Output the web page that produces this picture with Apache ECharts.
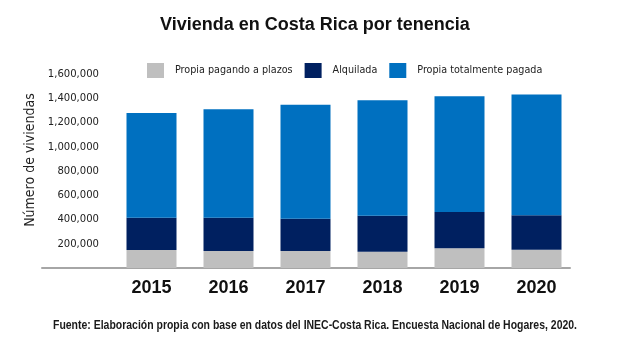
<!DOCTYPE html>
<html>
<head>
<meta charset="utf-8">
<script src="https://cdn.jsdelivr.net/npm/echarts@6/dist/echarts.min.js"></script>
<style>html,body{margin:0;padding:0;background:#fff}#c{width:630px;height:357px}</style>
</head>
<body>
<div id="c"></div>
<script>
const categories = ['2015', '2016', '2017', '2018', '2019', '2020'];
const seriesNames = ['Propia pagando a plazos', 'Alquilada', 'Propia totalmente pagada'];
const plazos = [148000, 140000, 140000, 134000, 162000, 151000];
const alquilada = [266000, 274000, 266000, 296000, 299000, 285000];
const pagada = [864000, 895000, 941000, 953000, 955000, 994000];
const yTicks = [0, 200000, 400000, 600000, 800000, 1000000, 1200000, 1400000, 1600000];
const titleText = 'Vivienda en Costa Rica por tenencia';
const yName = 'Número de viviendas';
const sourceText = 'Fuente: Elaboración propia con base en datos del INEC-Costa Rica. Encuesta Nacional de Hogares, 2020.';

const cond = "'DejaVu Sans Condensed', sans-serif";
const sans = "'Liberation Sans', Arial, sans-serif";
const colors = ['#bfbfbf', '#002060', '#0070c0'];
const chart = echarts.init(document.getElementById('c'), null, {renderer: 'canvas'});
const values = [plazos, alquilada, pagada];

// condensed look for the source line: scale horizontally to the reference width
const srcFont = 'bold 13px ' + sans;
const mc = document.createElement('canvas').getContext('2d');
mc.font = srcFont;
const srcScale = 524 / mc.measureText(sourceText).width;

chart.setOption({
  animation: false,
  backgroundColor: '#ffffff',
  color: colors,
  title: [
    {text: titleText, left: 'center', top: 11,
     textStyle: {fontFamily: sans, fontWeight: 'bold', fontSize: 18, color: '#111'}}
  ],
  graphic: [
    {type: 'text', x: 315, y: 325, scaleX: srcScale, silent: true,
     style: {text: sourceText, font: srcFont, fill: '#1a1a1a', align: 'center', verticalAlign: 'middle'}}
  ],
  legend: {
    data: seriesNames, left: 142, top: 58, itemWidth: 17, itemHeight: 15, itemGap: 12,
    icon: 'rect',
    textStyle: {fontFamily: cond, fontSize: 10.7, color: '#222', padding: [0, 0, 0, 6]}
  },
  grid: [
    {left: 113, right: 55, top: 74, bottom: 89},
    {left: 42, right: 60, top: 74, bottom: 89}
  ],
  xAxis: [
    {type: 'category', data: categories, gridIndex: 0,
     axisLine: {show: false}, axisTick: {show: false},
     axisLabel: {margin: 11, fontFamily: sans, fontWeight: 'bold', fontSize: 18, color: '#111'}},
    {type: 'value', gridIndex: 1, min: 0, max: 1,
     axisLine: {show: true, lineStyle: {color: '#a6a6a6', width: 2}},
     axisTick: {show: false}, axisLabel: {show: false}, splitLine: {show: false}}
  ],
  yAxis: [
    {type: 'value', gridIndex: 0, min: yTicks[0], max: yTicks[yTicks.length - 1], interval: yTicks[1] - yTicks[0],
     name: yName, nameLocation: 'middle', nameRotate: 90, nameGap: 69,
     nameTextStyle: {fontFamily: cond, fontSize: 14, color: '#222', padding: [0, 0, 0, 22]},
     axisLine: {show: false}, axisTick: {show: false}, splitLine: {show: false},
     axisLabel: {margin: 14, fontFamily: cond, fontSize: 11.2, color: '#222',
       formatter: v => v === 0 ? '' : v.toLocaleString('en-US')}},
    {type: 'value', gridIndex: 1, min: 0, max: 1, show: false}
  ],
  series: seriesNames.map((n, i) => ({
    name: n, type: 'bar', stack: 'total', data: values[i], barWidth: 50,
    xAxisIndex: 0, yAxisIndex: 0, itemStyle: {color: colors[i]}
  }))
});
</script>
</body>
</html>
